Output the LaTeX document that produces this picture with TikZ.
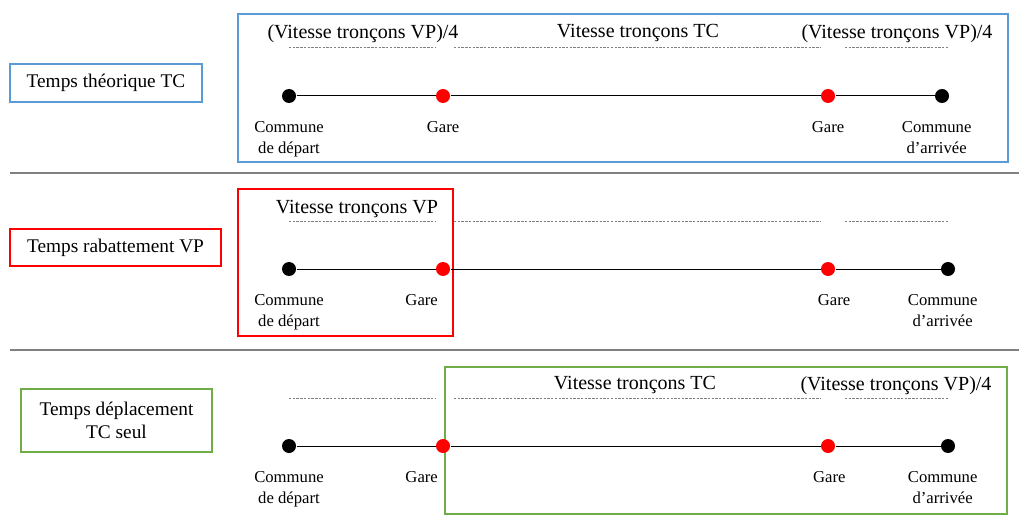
\documentclass[tikz,border=0pt]{standalone}
\usepackage{fontspec}
\setmainfont{Liberation Serif}
\usetikzlibrary{positioning}

\definecolor{cadreTC}{RGB}{91,155,213}
\definecolor{cadreVP}{RGB}{255,0,0}
\definecolor{cadreSeul}{RGB}{112,173,71}
\definecolor{sepgris}{RGB}{128,128,128}

\tikzset{
  every picture/.style={line width=0.75pt},
  arret/.style={circle, fill=black, inner sep=0pt, minimum size=10.5pt},
  gare/.style={arret, fill=red},
  lbl/.style={font=\fontsize{12.5}{15.5}\selectfont, align=center, anchor=north, inner sep=1pt},
  titre/.style={font=\fontsize{15}{17}\selectfont, inner sep=1pt},
  legende/.style={draw, line width=1.2pt, font=\fontsize{14.5}{17}\selectfont, align=center, inner sep=0pt},
  pointille/.style={dash pattern=on 1.8pt off 1pt, color=sepgris, line width=0.6pt},
}

\begin{document}
\begin{tikzpicture}[x=0.75pt, y=-0.75pt]
        \useasboundingbox (0,0) rectangle (1019,527);

        % separateurs
        \draw[sepgris, line width=1.3pt] (10,173) -- (1019,173);
        \draw[sepgris, line width=1.3pt] (10,350) -- (1019,350);

        % cadres
        \draw[cadreTC, line width=1.2pt] (238,14) rectangle (1008,162);
        \draw[cadreVP, line width=1.2pt] (238,189) rectangle (453,336);
        \draw[cadreSeul, line width=1.2pt] (445,367) rectangle (1007,514);

        \node[legende, draw=cadreTC, minimum width=144pt, minimum height=28.5pt] (leg1) at (106,83) {Temps théorique TC};
        \node[legende, draw=cadreVP, minimum width=158pt, minimum height=27.75pt] (leg2) at (115.5,247.5) {Temps rabattement VP};
        \node[legende, draw=cadreSeul, minimum width=143pt, minimum height=47pt] (leg3) at (116.5,420.5) {Temps déplacement\\TC seul};

        % pointilles
        \foreach \y in {47,221,398} {
            \draw[pointille] (289,\y) -- (436,\y);
            \draw[pointille] (454,\y) -- (820,\y);
            \draw[pointille] (845,\y) -- (948,\y);
        }

        % ligne 1
        \node[arret] (dep1) at (289,96) {};
        \node[gare] (garea1) at (443,96) {};
        \node[gare] (gareb1) at (828,96) {};
        \node[arret] (arr1) at (942,96) {};
        \draw (dep1) -- (garea1) -- (gareb1) -- (arr1);
        \node[lbl, below=12pt of dep1] {Commune\\de départ};
        \node[lbl, below=12pt of garea1] {Gare};
        \node[lbl, below=12pt of gareb1] {Gare};
        \node[lbl, below=12pt of arr1, xshift=-4pt] {Commune\\d’arrivée};
        \node[titre] (v11) at (363,33.5) {(Vitesse tronçons VP)/4};
        \node[titre] (v12) at (638,33.5) {Vitesse tronçons TC};
        \node[titre] (v13) at (897,33.5) {(Vitesse tronçons VP)/4};

        % ligne 2
        \node[arret] (dep2) at (289,269) {};
        \node[gare] (garea2) at (443,269) {};
        \node[gare] (gareb2) at (828,269) {};
        \node[arret] (arr2) at (948,269) {};
        \draw (dep2) -- (garea2) -- (gareb2) -- (arr2);
        \node[lbl, below=12pt of dep2] {Commune\\de départ};
        \node[lbl, below=12pt of garea2, xshift=-16pt] {Gare};
        \node[lbl, below=12pt of gareb2, xshift=4.5pt] {Gare};
        \node[lbl, below=12pt of arr2, xshift=-4pt] {Commune\\d’arrivée};
        \node[titre] (v21) at (357,209.5) {Vitesse tronçons VP};

        % ligne 3
        \node[arret] (dep3) at (289,446) {};
        \node[gare] (garea3) at (443,446) {};
        \node[gare] (gareb3) at (828,446) {};
        \node[arret] (arr3) at (948,446) {};
        \draw (dep3) -- (garea3) -- (gareb3) -- (arr3);
        \node[lbl, below=12pt of dep3] {Commune\\de départ};
        \node[lbl, below=12pt of garea3, xshift=-16pt] {Gare};
        \node[lbl, below=12pt of gareb3, xshift=1pt] {Gare};
        \node[lbl, below=12pt of arr3, xshift=-4pt] {Commune\\d’arrivée};
        \node[titre] (v32) at (635,385.5) {Vitesse tronçons TC};
        \node[titre] (v33) at (896,385.5) {(Vitesse tronçons VP)/4};
    \end{tikzpicture}
\end{document}
